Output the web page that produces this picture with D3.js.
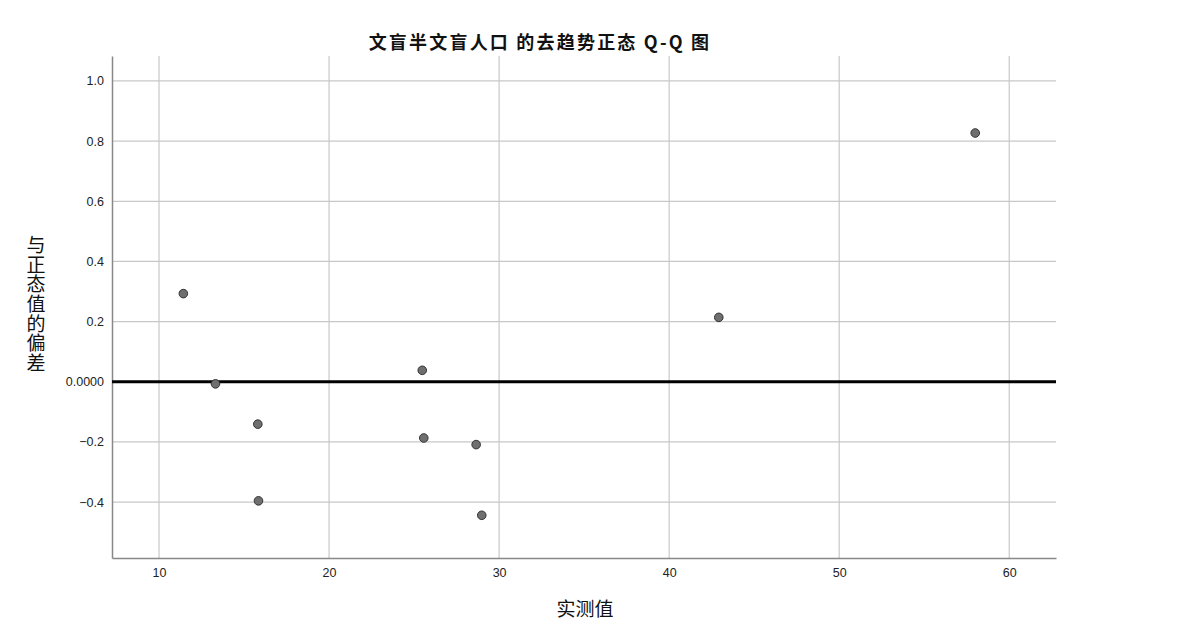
<!DOCTYPE html>
<html><head><meta charset="utf-8">
<script src="https://cdn.jsdelivr.net/npm/d3@7/dist/d3.min.js"></script>
<style>body{margin:0;background:#fff;} svg{display:block;}</style>
</head><body>
<svg id="c" width="1202" height="642"></svg>
<script>
const title = "文盲半文盲人口 的去趋势正态 Q-Q 图";
const xTitle = "实测值";
const yTitle = "与正态值的偏差";
const observed = [11.43, 13.32, 15.81, 15.85, 25.48, 25.57, 28.65, 28.98, 42.92, 58.0];
const deviation = [0.293, -0.007, -0.141, -0.396, 0.038, -0.187, -0.209, -0.444, 0.214, 0.827];
const xTicks = [10, 20, 30, 40, 50, 60];
const yTicks = [-0.4, -0.2, 0, 0.2, 0.4, 0.6, 0.8, 1.0];

const svg = d3.select("#c");
const L = 112, R = 1056, T = 56, B = 558;
const x = d3.scaleLinear().domain([7.235, 62.75]).range([L, R]);
const y = d3.scaleLinear().domain([-0.586, 1.083]).range([B, T]);

const font = "'Liberation Sans', Arial, sans-serif";
const cjk = "'Noto Sans CJK SC', sans-serif";

// grid
svg.append("g").selectAll("line").data(xTicks).join("line")
  .attr("x1", d => x(d)).attr("x2", d => x(d)).attr("y1", T).attr("y2", B)
  .attr("stroke", "#c8c8c8").attr("stroke-width", 1.2);
svg.append("g").selectAll("line").data(yTicks).join("line")
  .attr("x1", L).attr("x2", R).attr("y1", d => y(d)).attr("y2", d => y(d))
  .attr("stroke", "#c8c8c8").attr("stroke-width", 1.2);

// axes
const xAxis = svg.append("g").attr("transform", `translate(0,${B})`)
  .call(d3.axisBottom(x).tickValues(xTicks).tickSize(0).tickPadding(10).tickFormat(d3.format("d")));
xAxis.select(".domain").attr("stroke", "#888").attr("stroke-width", 1.5);
xAxis.selectAll("text").attr("font-family", font).attr("font-size", 12.5).attr("fill", "#222");

const yAxis = svg.append("g").attr("transform", `translate(${L},0)`)
  .call(d3.axisLeft(y).tickValues(yTicks).tickSize(0).tickPadding(8)
    .tickFormat(d => d === 0 ? "0.0000" : d3.format(".1f")(d)));
yAxis.select(".domain").attr("stroke", "#888").attr("stroke-width", 1.5);
yAxis.selectAll("text").attr("font-family", font).attr("font-size", 12.5).attr("fill", "#222");

// zero reference line
svg.append("line").attr("x1", L).attr("x2", R).attr("y1", y(0)).attr("y2", y(0))
  .attr("stroke", "#000").attr("stroke-width", 3);

// points
svg.append("g").selectAll("circle").data(observed).join("circle")
  .attr("cx", d => x(d)).attr("cy", (d, i) => y(deviation[i])).attr("r", 4.3)
  .attr("fill", "#6f6f6f").attr("stroke", "#333").attr("stroke-width", 1);

// titles
svg.append("text").attr("x", 540).attr("y", 49).attr("text-anchor", "middle")
  .attr("font-family", cjk).attr("font-size", 18).attr("font-weight", "bold")
  .attr("letter-spacing", 2.2).attr("fill", "#111").text(title);
svg.append("text").attr("x", 585).attr("y", 616).attr("text-anchor", "middle")
  .attr("font-family", cjk).attr("font-size", 19).attr("fill", "#111").text(xTitle);
svg.append("text").attr("x", 36).attr("y", 304).attr("text-anchor", "middle")
  .attr("font-family", cjk).attr("font-size", 19).attr("letter-spacing", 0.6)
  .style("writing-mode", "vertical-rl").style("text-orientation", "upright")
  .attr("fill", "#111").text(yTitle);
</script>
</body></html>
